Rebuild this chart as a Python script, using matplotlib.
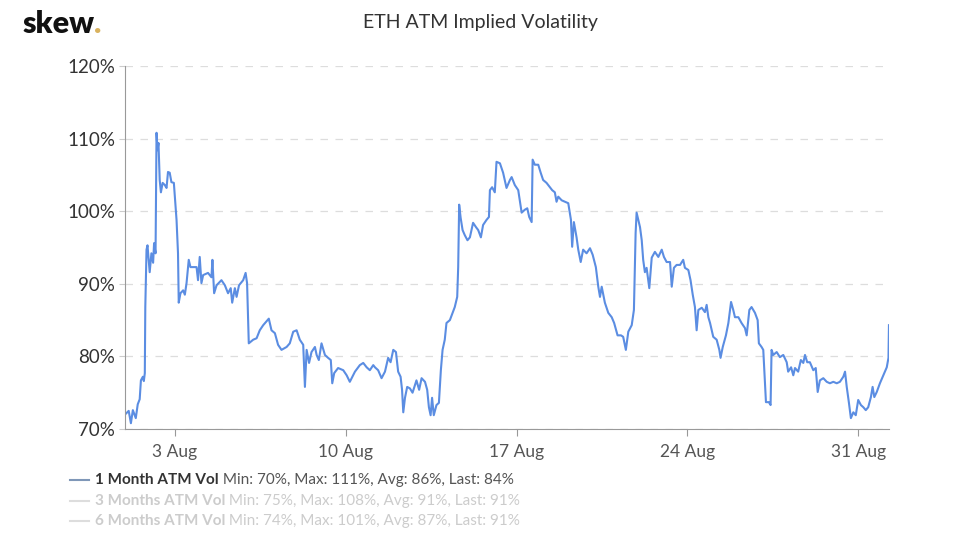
import matplotlib
matplotlib.use('Agg')
import matplotlib.pyplot as plt
import pandas as pd

# ETH 1 month ATM implied vol (days since start, %)
start = pd.Timestamp('2020-07-31 22:48')
days = [0.04, 0.16, 0.25, 0.33, 0.45, 0.53, 0.61, 0.66, 0.74, 0.78, 0.82, 0.84, 0.89, 0.93, 1.02, 1.09, 1.16, 1.20, 1.26, 1.30,
        1.34, 1.38, 1.43, 1.48, 1.55, 1.64, 1.71, 1.77, 1.84, 1.91, 2.01, 2.12, 2.18, 2.21, 2.28, 2.39, 2.46, 2.53, 2.62, 2.69,
        2.80, 2.94, 3.00, 3.07, 3.14, 3.21, 3.41, 3.55, 3.59, 3.66, 3.76, 3.96, 4.10, 4.23, 4.34, 4.40, 4.51, 4.58, 4.68, 4.85,
        4.95, 5.01, 5.08, 5.26, 5.40, 5.53, 5.67, 5.90, 6.01, 6.15, 6.28, 6.42, 6.63, 6.76, 6.90, 7.04, 7.17, 7.31, 7.38, 7.45,
        7.55, 7.65, 7.79, 7.86, 7.95, 8.06, 8.20, 8.33, 8.44, 8.50, 8.58, 8.74, 8.95, 9.09, 9.22, 9.43, 9.63, 9.77, 9.91, 10.04,
        10.18, 10.25, 10.38, 10.52, 10.66, 10.79, 10.89, 11.00, 11.11, 11.20, 11.30, 11.36, 11.41, 11.48, 11.57, 11.68, 11.79, 11.95, 12.06, 12.16,
        12.30, 12.39, 12.46, 12.53, 12.59, 12.66, 12.77, 12.87, 12.95, 13.02, 13.11, 13.18, 13.32, 13.43, 13.52, 13.62, 13.66, 13.70, 13.76, 13.84,
        13.93, 14.04, 14.14, 14.27, 14.39, 14.48, 14.59, 14.68, 14.82, 14.92, 14.96, 15.05, 15.16, 15.23, 15.37, 15.50, 15.64, 15.78, 15.85, 15.98,
        16.12, 16.26, 16.39, 16.49, 16.57, 16.67, 16.71, 16.80, 16.94, 17.04, 17.14, 17.28, 17.42, 17.51, 17.62, 17.69, 17.76, 17.90, 18.03, 18.17,
        18.28, 18.33, 18.40, 18.51, 18.58, 18.68, 18.78, 18.92, 19.06, 19.17, 19.30, 19.40, 19.47, 19.54, 19.67, 19.81, 19.95, 20.05, 20.19, 20.33,
        20.42, 20.53, 20.63, 20.77, 20.86, 20.93, 20.97, 21.04, 21.11, 21.18, 21.24, 21.31, 21.38, 21.49, 21.59, 21.72, 21.86, 22.00, 22.09, 22.20,
        22.34, 22.41, 22.50, 22.61, 22.75, 22.88, 22.95, 23.09, 23.18, 23.27, 23.36, 23.43, 23.50, 23.64, 23.77, 23.84, 23.91, 23.98, 24.11, 24.25,
        24.36, 24.41, 24.50, 24.63, 24.73, 24.84, 24.93, 25.00, 25.14, 25.27, 25.41, 25.48, 25.59, 25.68, 25.82, 25.93, 25.98, 26.09, 26.16, 26.23,
        26.27, 26.39, 26.46, 26.50, 26.57, 26.71, 26.84, 26.98, 27.12, 27.18, 27.30, 27.39, 27.46, 27.59, 27.70, 27.80, 27.87, 27.96, 28.07, 28.21,
        28.31, 28.39, 28.48, 28.62, 28.76, 28.89, 29.03, 29.17, 29.30, 29.44, 29.51, 29.58, 29.67, 29.75, 29.85, 29.95, 30.05, 30.16, 30.26, 30.36,
        30.46, 30.57, 30.64, 30.71, 30.81, 30.94, 31.08, 31.22, 31.29, 31.31]
vol_1m = [72.1, 72.5, 70.8, 72.6, 71.5, 73.4, 74.1, 76.7, 77.2, 76.6, 77.7, 86.8, 94.7, 95.3, 91.6, 94.2, 92.9, 95.6, 94.2, 110.8,
          108.4, 109.4, 104.3, 102.6, 103.9, 103.6, 103.2, 105.4, 105.3, 104.0, 103.9, 98.8, 94.2, 87.4, 88.7, 89.1, 88.5, 90.1, 93.3, 92.3,
          92.3, 92.3, 90.5, 93.7, 90.1, 91.2, 91.5, 90.9, 93.3, 88.7, 89.8, 90.5, 89.8, 88.7, 89.4, 87.4, 89.4, 88.2, 89.8, 90.5,
          91.5, 90.1, 81.8, 82.3, 82.5, 83.6, 84.3, 85.2, 83.6, 83.2, 81.6, 80.9, 81.3, 81.8, 83.4, 83.6, 82.3, 81.6, 75.8, 80.9,
          79.1, 80.6, 81.3, 80.2, 79.5, 81.8, 80.2, 79.8, 79.5, 76.3, 77.7, 78.4, 78.1, 77.4, 76.5, 77.9, 78.8, 79.1, 78.5, 78.1,
          78.8, 78.5, 78.1, 77.0, 77.9, 79.8, 79.2, 80.9, 80.6, 77.9, 77.2, 75.4, 72.3, 74.3, 75.8, 75.6, 75.0, 76.7, 75.4, 77.0,
          76.5, 75.4, 73.0, 71.9, 74.3, 71.9, 73.3, 73.6, 78.1, 80.9, 82.3, 84.6, 85.0, 86.0, 86.8, 88.2, 92.3, 100.9, 99.1, 97.4,
          96.7, 96.0, 96.4, 98.4, 97.8, 97.4, 96.4, 98.1, 98.8, 99.2, 102.9, 103.3, 102.6, 106.8, 106.6, 105.3, 103.2, 104.3, 104.7, 103.6,
          102.9, 99.8, 100.2, 100.4, 99.2, 98.5, 107.1, 106.4, 106.4, 105.3, 104.3, 103.9, 103.3, 102.9, 102.6, 101.3, 102.0, 101.5, 101.3, 101.1,
          98.8, 95.1, 98.5, 96.4, 94.7, 93.0, 94.7, 94.2, 94.9, 94.0, 92.3, 89.6, 88.2, 89.6, 87.4, 86.0, 85.4, 84.6, 82.9, 82.9,
          82.7, 80.9, 83.4, 84.3, 86.4, 97.0, 99.8, 98.8, 97.8, 96.0, 93.3, 91.6, 92.2, 89.4, 93.6, 94.4, 93.7, 94.7, 93.7, 93.0,
          93.0, 89.6, 92.2, 92.6, 92.6, 93.3, 92.2, 91.9, 90.5, 88.5, 86.8, 83.6, 86.4, 86.7, 86.1, 87.1, 85.4, 84.6, 82.7, 82.3,
          80.9, 79.8, 81.3, 82.9, 84.6, 87.5, 86.4, 85.4, 85.4, 84.6, 83.9, 82.9, 86.4, 86.8, 86.0, 85.0, 81.8, 81.3, 80.9, 76.3,
          73.7, 73.7, 73.3, 80.9, 80.2, 80.6, 79.9, 80.2, 79.2, 77.9, 78.5, 77.4, 78.4, 77.9, 79.5, 79.1, 80.2, 79.2, 79.2, 78.1,
          78.4, 75.1, 76.7, 77.0, 76.5, 76.3, 76.5, 76.3, 76.5, 77.2, 77.9, 75.8, 73.6, 71.5, 72.3, 71.9, 74.0, 73.3, 73.0, 72.6,
          73.0, 74.4, 75.8, 74.4, 75.1, 76.3, 77.4, 78.5, 79.8, 84.3]

y_ticks = [70, 80, 90, 100, 110, 120]
x_tick_dates = ['2020-08-03', '2020-08-10', '2020-08-17', '2020-08-24', '2020-08-31']
x_tick_labels = ['3 Aug', '10 Aug', '17 Aug', '24 Aug', '31 Aug']

legend_rows = [
    ('1 Month ATM Vol', 'Min: 70%, Max: 111%, Avg: 86%, Last: 84%', True),
    ('3 Months ATM Vol', 'Min: 75%, Max: 108%, Avg: 91%, Last: 91%', False),
    ('6 Months ATM Vol', 'Min: 74%, Max: 101%, Avg: 87%, Last: 91%', False),
]

plt.rcParams['font.family'] = ['Lato', 'DejaVu Sans']

times = [start + pd.Timedelta(days=d) for d in days]
line_color = '#5b8de2'

fig = plt.figure(figsize=(9.6, 5.36), dpi=100)
ax = fig.add_axes([0.130, 0.1996, 0.796, 0.6773])
ax.plot(times, vol_1m, color=line_color, lw=1.5)

ax.set_ylim(70, 120)
ax.set_xlim(start, start + pd.Timedelta(days=31.31))
ax.set_yticks(y_ticks)
ax.set_yticklabels([f'{v}%' for v in y_ticks], fontsize=13.5, color='#333333')
ax.set_xticks(pd.to_datetime(x_tick_dates))
ax.set_xticklabels(x_tick_labels, fontsize=12.5, color='#555555')
ax.tick_params(axis='x', length=5, color='#999999', pad=6)
ax.tick_params(axis='y', length=4, color='#cccccc', pad=3)
ax.grid(axis='y', color='#dddddd', linestyle=(0, (6, 6)), lw=0.9)
for s in ['top', 'right']:
    ax.spines[s].set_visible(False)
ax.spines['left'].set_color('#999999')
ax.spines['bottom'].set_color('#999999')

fig.text(0.5, 0.958, 'ETH ATM Implied Volatility', ha='center', va='center',
         fontsize=14, color='#333333')

# skew. logo
logo = fig.text(0.023, 0.955, 'skew', ha='left', va='center', fontsize=22,
                fontweight='heavy', color='#111111')
ax.annotate('.', xy=(1, 0), xycoords=logo, ha='left', va='bottom', fontsize=22,
            fontweight='heavy', color='#d9b25e', annotation_clip=False)

# legend rows
y0 = 0.104
for i, (name, stats, active) in enumerate(legend_rows):
    y = y0 - i * 0.038
    col_line = '#7f97b8' if active else '#dddddd'
    col_name = '#333333' if active else '#cccccc'
    col_stats = '#555555' if active else '#cccccc'
    fig.lines.append(plt.Line2D([0.073, 0.093], [y, y], transform=fig.transFigure,
                                color=col_line, lw=1.5))
    t = fig.text(0.099, y, name, ha='left', va='center', fontsize=11,
                 fontweight='bold', color=col_name)
    ax.annotate(' ' + stats, xy=(1, 0.5), xycoords=t, ha='left', va='center',
                fontsize=11, color=col_stats, annotation_clip=False)

fig.savefig('out.png', dpi=100)
